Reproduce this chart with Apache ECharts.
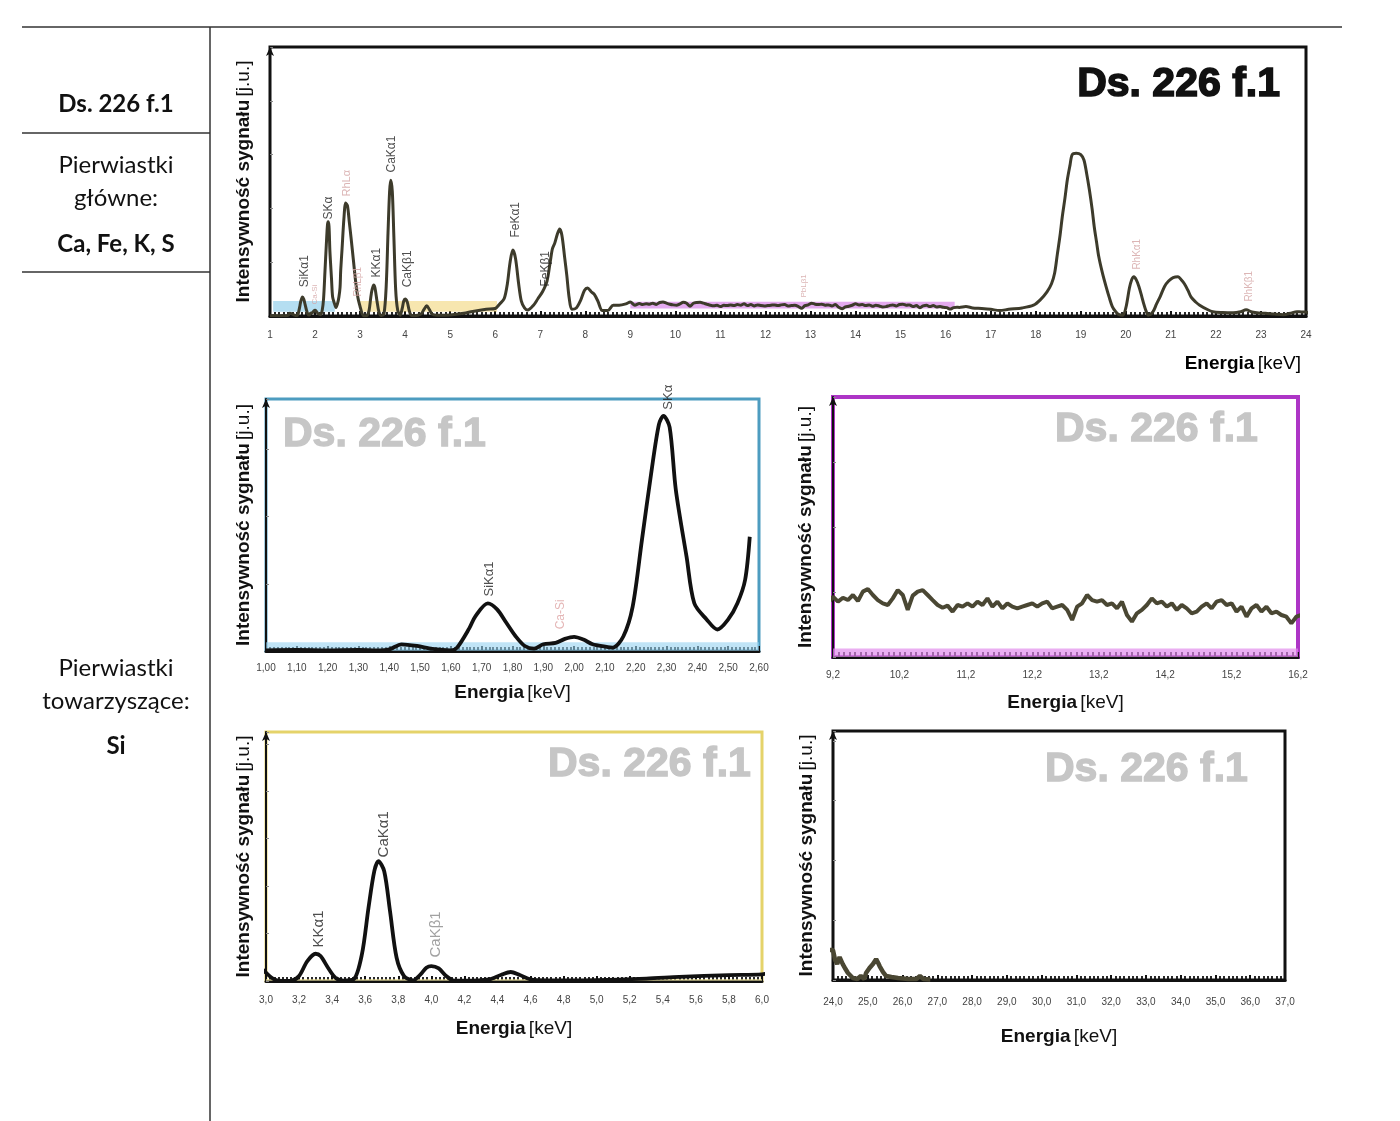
<!DOCTYPE html>
<html><head><meta charset="utf-8">
<script src="https://cdn.jsdelivr.net/npm/echarts@6/dist/echarts.min.js"></script>
<style>html,body{margin:0;padding:0;background:#fff}#c{width:1400px;height:1121px}</style>
</head><body><div id="c"></div>
<script>
// ===== DATA (energy keV, intensity a.u.) =====
const siRegion = [[1.00,0.1],[1.10,0.15],[1.20,0.1],[1.30,0.15],[1.36,0.1],[1.40,0.25],[1.44,1.0],[1.49,0.75],[1.54,0.3],[1.60,0.1],[1.62,0.5],[1.66,3.4],[1.68,5.2],[1.72,7.1],[1.75,6.2],[1.78,4.2],[1.81,2.2],[1.84,0.75],[1.87,0.35],[1.90,1.0],[1.94,1.2],[1.97,1.8],[2.00,2.1],[2.03,1.7],[2.06,1.0],[2.10,0.65],[2.125,0.5],[2.16,2.2],[2.19,6.6],[2.22,16.5],[2.25,26.4],[2.275,33.7],[2.29,35],[2.31,33.3],[2.33,24],[2.365,14],[2.39,7.1],[2.43,4.7],[2.465,3.2],[2.50,4.7],[2.53,7.1],[2.555,10.6],[2.57,17]];
const rhLRegion = [[2.60,25],[2.64,36],[2.68,42],[2.72,41],[2.76,35],[2.80,29],[2.85,21],[2.90,13],[2.95,7]];
const caRegion = [[3.00,3.5],[3.05,0.7],[3.10,0],[3.155,0.2],[3.20,2.1],[3.25,8.4],[3.30,11.5],[3.33,10.5],[3.375,5.6],[3.42,1.4],[3.47,0.2],[3.53,0.7],[3.58,11.2],[3.62,30.9],[3.655,46.3],[3.68,50.5],[3.715,46.3],[3.75,29.5],[3.79,9.8],[3.835,2.1],[3.89,0.3],[3.935,2.8],[3.97,5.6],[4.00,6.3],[4.045,5.3],[4.09,2.1],[4.13,0.3],[4.20,0.1],[4.35,0.7],[4.42,2.5],[4.48,3.8],[4.535,2.5],[4.60,0.7],[4.70,0.3],[5.00,0.4],[5.30,1.0],[5.50,1.7],[5.80,2.5],[6.00,2.8]];
const feRegion = [[6.10,4.5],[6.20,6.5],[6.27,12],[6.33,20],[6.39,24.5],[6.45,21.5],[6.52,12],[6.58,5.5],[6.65,3],[6.72,2.2],[6.85,4],[6.95,6.5],[7.05,9],[7.15,13],[7.22,20],[7.27,25],[7.32,27],[7.38,30.5],[7.43,32.3],[7.48,30],[7.54,22],[7.59,15],[7.64,7],[7.70,2.5],[7.80,3],[7.90,6],[7.98,9.5],[8.05,10.4],[8.13,9],[8.20,8],[8.28,5.5],[8.38,2],[8.50,2],[8.62,4],[8.75,4],[8.90,4.5],[9.00,5.2],[9.10,4]];
const noiseStart = 9.2, noiseStep = 0.075;
const noiseValues = [4.64,4.26,4.56,4.38,4.77,4.31,5.03,5.23,4.77,4.38,4.13,4.0,4.51,5.15,4.77,3.62,4.72,5.03,5.15,4.77,4.38,4.0,3.79,3.95,3.49,4.0,3.87,4.13,3.87,4.26,4.0,4.51,3.87,4.26,3.74,4.13,3.87,3.74,3.87,4.0,4.13,3.87,4.13,4.26,3.74,3.87,4.0,3.62,
  2.85,3.87,4.13,4.77,4.38,4.26,4.38,4.0,4.13,3.74,4.26,3.23,2.72,3.36,3.62,4.0,4.51,4.13,4.26,3.87,4.13,3.62,4.0,3.74,3.36,3.49,3.87,4.13,3.74,4.26,4.38,4.0,4.13,3.49,3.87,3.1,3.74,4.0,3.49,3.87,3.36,3.49,3.23,3.1,2.59,3.1,3.23];
const rhKRegion = [[16.30,3.2],[16.45,3.5],[16.60,3.0],[16.80,2.8],[17.00,2.5],[17.20,2.0],[17.40,2.5],[17.70,3.0],[17.95,4.0],[18.10,6],[18.25,9],[18.35,12],[18.42,16],[18.48,23],[18.54,30],[18.59,37],[18.65,44],[18.70,50.5],[18.76,56],[18.81,60],[18.90,60.5],[19.00,60],[19.07,58],[19.13,53],[19.19,47],[19.25,40],[19.30,33],[19.35,27.5],[19.40,22],[19.48,16],[19.56,11],[19.63,7],[19.70,3.5],[19.78,1.5],[19.85,0.5],[19.93,0.3],[20.00,3],[20.08,10.4],[20.13,13.5],[20.18,14.6],[20.23,13.5],[20.29,11],[20.35,7.5],[20.40,4.4],[20.45,1.8],[20.50,0.3],[20.60,1.5],[20.68,4.4],[20.77,7.5],[20.86,11],[20.95,13],[21.05,14.3],[21.16,14.6],[21.23,13.5],[21.30,12],[21.38,9.5],[21.45,7],[21.55,5.2],[21.64,4],[21.80,2.5],[21.93,1.6],[22.15,1.3],[22.38,1.2],[22.55,1.6],[22.67,2.3],[22.80,1.5],[22.95,1.1],[23.10,1.0],[23.30,0.7],[23.50,0.5],[23.65,1.0],[23.80,1.6],[23.90,1.5]];
const tailRegion = [[24.00,1.5],[24.06,1.0],[24.12,0.8],[24.19,1.15],[24.28,0.8],[24.36,0.55],[24.43,0.35],[24.57,0.1],[24.70,0.05],[24.80,0.2],[24.90,0.05],[24.95,0.35],[25.05,0.6],[25.10,0.5],[25.15,0.8],[25.24,1.05],[25.30,0.85],[25.34,0.7],[25.44,0.4],[25.53,0.2],[25.68,0.15],[25.87,0.1],[26.16,0.05],[26.40,0.05],[26.50,0.2],[26.60,0.05],[26.80,0.02]];

// zoom windows marked on the overview spectrum [from keV, to keV, low, high]
const bandBlue = [1.07, 2.44, 1.6, 5.6];
const bandYellow = [3.0, 6.04, 1.6, 5.6];
const bandPurple = [9.0, 16.2, 2.8, 5.3];

// peak labels: name, energy, label base level
const topMainNames = ['SiKα1','SKα','KKα1','CaKα1','CaKβ1','FeKα1','FeKβ1'];
const topMainEnergy = [1.76,2.31,3.36,3.71,4.05,6.45,7.11];
const topMainLevel = [8.6,33.8,12.3,51.3,8.6,27.1,8.9];
const topRefNames = ['Ca-Si','RhLα','RhLβ1','PbLβ1','RhKα1','RhKβ1'];
const topRefEnergy = [2.0,2.71,2.96,12.85,20.26,22.74];
const topRefLevel = [2.2,42.4,5.2,4.8,15.2,3.3];
const siMainNames = ['SiKα1','SKα'];
const siMainEnergy = [1.725,2.307];
const siMainLevel = [7.3,35.1];
const siRefNames = ['Ca-Si'];
const siRefEnergy = [1.956];
const siRefLevel = [2.4];
const caMainNames = ['KKα1','CaKα1'];
const caMainEnergy = [3.32,3.71];
const caMainLevel = [11.8,49.8];
const caRefNames = ['CaKβ1'];
const caRefEnergy = [4.03];
const caRefLevel = [7.6];

const purpleTickLabels = [9.2,10.2,11.2,12.2,13.2,14.2,15.2,16.2];

// ===== BUILD =====
const noiseRegion = noiseValues.map((v,i)=>[+(noiseStart+i*noiseStep).toFixed(3), v]);
const spectrum = [].concat(siRegion, rhLRegion, caRegion, feRegion, noiseRegion, rhKRegion, tailRegion);
const siSpectrum = spectrum.filter(p => p[0] <= 2.57);

const FONT_N = "'Liberation Sans Narrow','Arial Narrow','Liberation Sans',Arial,sans-serif";
const FONT_S = "'Liberation Sans',Arial,sans-serif";
const fmt = (v,d) => v.toFixed(d).replace('.', ',');
const nameRich = {
  b:{fontFamily:FONT_N,fontWeight:'bold',fontSize:19,color:'#111'},
  n:{fontFamily:FONT_N,fontSize:19,color:'#111'}
};

function mkX(gi, o){
  return {
    type:'value', gridIndex:gi, min:o.min, max:o.max, interval:o.interval,
    axisLine:{show:true,onZero:false,lineStyle:{color:'#111',width:3}},
    axisTick:{show:true,inside:true,length:5,lineStyle:{color:'#111',width:2},customValues:o.ticks},
    minorTick:{show:!!o.minor,splitNumber:o.minor||5,length:4,lineStyle:{color:'#111',width:1.8}},
    axisLabel:{show:true,margin:o.margin,fontSize:10,color:'#444',fontFamily:FONT_S,
      formatter:v=>fmt(v,o.dec),customValues:o.labels,showMinLabel:true,showMaxLabel:true},
    splitLine:{show:false}, minorSplitLine:{show:false},
    name:o.gap?'{b|Energia} {n|[keV]}':'', nameLocation:'middle', nameGap:o.gap||0,
    nameTextStyle:{rich:nameRich}
  };
}
function mkY(gi, max, gap){
  return {
    type:'value', gridIndex:gi, min:0, max:max,
    axisLine:{show:true,onZero:false,lineStyle:{color:'#111',width:2},symbol:['none','arrow'],symbolSize:[6,9]},
    axisTick:{show:true,inside:true,length:3,lineStyle:{color:'#888'}},
    axisLabel:{show:false}, splitLine:{show:false},
    name:'{b|Intensywność sygnału} {n|[j.u.]}', nameLocation:'middle', nameGap:gap, nameRotate:90,
    nameTextStyle:{rich:nameRich}
  };
}
function lineSeries(i, data, color, width, smooth){
  return {type:'line',xAxisIndex:i,yAxisIndex:i,data:data,showSymbol:false,symbol:'none',smooth:smooth,
    lineStyle:{color:color,width:width},silent:true,z:3,animation:false};
}
function bandSeries(i, bands){
  return {type:'line',xAxisIndex:i,yAxisIndex:i,data:[],z:5,silent:true,animation:false,
    markArea:{silent:true,data:bands.map(b=>[{coord:[b[0],b[2]],itemStyle:{color:b[4]}},{coord:[b[1],b[3]]}])}};
}
function labelSeries(i, names, energy, level, color, size, sizes){
  return {type:'scatter',xAxisIndex:i,yAxisIndex:i,symbol:'circle',symbolSize:1,silent:true,z:6,animation:false,
    itemStyle:{color:'rgba(0,0,0,0)'},
    data:names.map((n,k)=>{const it={name:n,value:[energy[k],level[k]]}; if(sizes) it.label={fontSize:sizes[k]}; return it;}),
    label:{show:true,position:'top',distance:5,rotate:90,align:'left',verticalAlign:'middle',formatter:'{b}',
      color:color,fontSize:size,fontFamily:FONT_S}};
}

const purpleTicks = [];
for(let k=0;k<=84;k++) purpleTicks.push(+(9.2+k*7/84).toFixed(4));

const grids = [
  {left:270,top:47,width:1036,height:269,borderColor:'#111',borderWidth:3},
  {left:266,top:399,width:493,height:252,borderColor:'#4d9cc0',borderWidth:3},
  {left:833,top:397,width:465,height:260,borderColor:'#ad35c6',borderWidth:4},
  {left:266,top:732,width:496,height:249,borderColor:'#e5d36a',borderWidth:3},
  {left:833,top:731,width:452,height:249,borderColor:'#111',borderWidth:3}
].map(g=>Object.assign({show:true,containLabel:false,outerBoundsMode:'none',backgroundColor:'transparent'},g));

const wm = (x,y,align,fill,sw)=>({type:'text',x:x,y:y,z:10,silent:true,
  style:{text:'Ds. 226 f.1',fill:fill,stroke:fill,lineWidth:sw,font:"bold 41px 'Liberation Sans', Arial, sans-serif",align:align,verticalAlign:'middle'}});
const leftText = (y,text,bold)=>({type:'text',x:116,y:y,silent:true,
  style:{text:text,fill:'#111',font:(bold?'bold ':'')+"24px Lato, 'Open Sans', sans-serif",align:'center',verticalAlign:'middle'}});
const hline = (x1,x2,y)=>({type:'line',silent:true,shape:{x1:x1,y1:y,x2:x2,y2:y},style:{stroke:'#333',lineWidth:1.5}});

const option = {
  animation:false,
  backgroundColor:'#ffffff',
  grid:grids,
  xAxis:[
    mkX(0,{min:1,max:24,interval:1,dec:0,minor:10,margin:14}),
    mkX(1,{min:1.0,max:2.6,interval:0.1,dec:2,minor:8,margin:12,gap:32}),
    mkX(2,{min:9.2,max:16.2,dec:1,ticks:purpleTicks,labels:purpleTickLabels,margin:13,gap:36}),
    mkX(3,{min:3.0,max:6.0,interval:0.2,dec:1,minor:8,margin:14,gap:38}),
    mkX(4,{min:24,max:37,interval:1,dec:1,minor:8,margin:17,gap:47})
  ],
  yAxis:[ mkY(0,100,17), mkY(1,37.5,13), mkY(2,20,18), mkY(3,105,13), mkY(4,12.5,17) ],
  series:[
    lineSeries(0, spectrum, '#3d3b2b', 3, 0.3),
    bandSeries(0, [bandBlue.concat('rgba(120,195,230,0.55)'), bandYellow.concat('rgba(240,210,110,0.55)'), bandPurple.concat('rgba(205,100,225,0.55)')]),
    labelSeries(0, topMainNames, topMainEnergy, topMainLevel, '#222', 12),
    labelSeries(0, topRefNames, topRefEnergy, topRefLevel, '#d3a3a3', 10, [8,11,10,8,10,10]),
    lineSeries(1, siSpectrum, '#111', 3.8, 0.3),
    bandSeries(1, [[1.0,2.6,0,1.3,'rgba(150,210,240,0.6)']]),
    labelSeries(1, siMainNames, siMainEnergy, siMainLevel, '#222', 13),
    labelSeries(1, siRefNames, siRefEnergy, siRefLevel, '#dda3a3', 12),
    lineSeries(2, spectrum, '#4a4733', 4, false),
    bandSeries(2, [[9.2,16.2,0,0.65,'rgba(225,140,235,0.7)']]),
    lineSeries(3, spectrum, '#111', 3.8, 0.3),
    bandSeries(3, [[3.0,6.0,0,0.8,'rgba(245,235,170,0.6)']]),
    labelSeries(3, caMainNames, caMainEnergy, caMainLevel, '#222', 15),
    labelSeries(3, caRefNames, caRefEnergy, caRefLevel, '#8a8a8a', 15),
    lineSeries(4, spectrum, '#4a4733', 4.5, false)
  ],
  graphic:[
    hline(22,1342,27), hline(22,210,133), hline(22,210,272),
    {type:'line',silent:true,shape:{x1:210,y1:27,x2:210,y2:1121},style:{stroke:'#333',lineWidth:1.5}},
    leftText(104,'Ds. 226 f.1',true),
    leftText(165,'Pierwiastki',false),
    leftText(198,'główne:',false),
    leftText(244,'Ca, Fe, K, S',true),
    leftText(668,'Pierwiastki',false),
    leftText(701,'towarzyszące:',false),
    leftText(746,'Si',true),
    wm(1280,85,'right','#111',1.6),
    wm(283,435,'left','#c6c6c6',1.4),
    wm(1055,430,'left','#c6c6c6',1.4),
    wm(548,765,'left','#c6c6c6',1.4),
    wm(1045,770,'left','#c6c6c6',1.4),
    {type:'text',x:1301,y:364,silent:true,style:{text:'{b|Energia} {n|[keV]}',rich:nameRich,align:'right',verticalAlign:'middle'}}
  ]
};
const chart = echarts.init(document.getElementById('c'), null, {renderer:'canvas', width:1400, height:1121});
chart.setOption(option);
</script></body></html>
